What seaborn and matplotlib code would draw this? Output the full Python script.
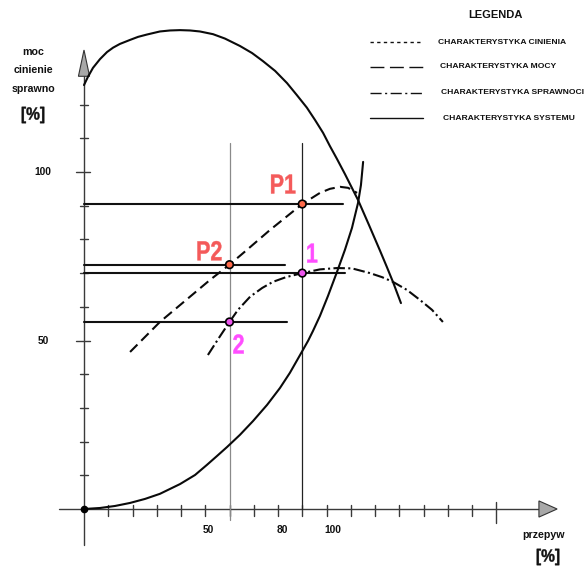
import matplotlib
matplotlib.use("Agg")
import matplotlib.pyplot as plt
from matplotlib.patches import Polygon, PathPatch
from matplotlib.lines import Line2D
from matplotlib.textpath import TextPath
from matplotlib.font_manager import FontProperties
from matplotlib.transforms import Affine2D, ScaledTranslation
import pandas as pd
import seaborn as sns

# Pump characteristics: flow Q [%] against head / power / efficiency [%]
pressure_q = [0, 1.6, 3.7, 6.6, 9.5, 12.0, 14.8, 19.0, 22.3, 26.0, 31.3, 35.5, 39.6, 43.7,
              47.8, 53.2, 58.1, 64.3, 69.3, 73.8, 78.8, 83.7, 87.8, 91.9, 95.3, 98.6,
              101.4, 104.3, 107.6, 113.0, 117.5, 122.1, 124.9, 127.4, 130.7]
pressure_h = [125.8, 128.2, 130.9, 133.5, 135.6, 136.9, 138.0, 139.2, 140.1, 140.8, 141.7,
              142.0, 142.1, 142.0, 141.7, 140.9, 139.6, 137.4, 135.3, 132.9, 130.0, 126.4,
              122.8, 119.1, 115.4, 111.6, 107.7, 103.9, 99.4, 91.7, 84.3, 76.6, 71.8, 67.4, 61.1]

power_q = [19.0, 31.3, 52.0, 60.0, 67.2, 76.7, 90.0, 97.3, 101.4, 105.6, 108.9, 112.6]
power_p = [46.6, 55.5, 68.0, 72.5, 76.9, 82.8, 90.5, 93.8, 95.0, 95.6, 95.3, 93.8]

eff_q = [51.1, 55.3, 60.0, 63.5, 68.5, 73.5, 77.9, 83.3, 90.0, 97.3, 104.3, 110.5, 117.9,
         122.9, 127.4, 133.2, 138.6, 143.5, 148.0]
eff_e = [45.7, 50.4, 55.5, 59.1, 63.0, 65.6, 67.4, 68.8, 70.0, 71.1, 71.5, 71.4, 70.0,
         68.8, 67.4, 65.0, 62.0, 59.1, 55.5]

system_q = [0, 6.6, 12.8, 19.0, 25.2, 31.3, 39.6, 45.8, 50.7, 54.8, 59.0, 64.3, 69.7, 75.5,
            80.8, 84.9, 89.1, 92.4, 94.4, 97.3, 100.6, 104.3, 107.6, 110.5, 113.0, 114.2, 115.1]
system_h = [0, 0.3, 0.9, 1.8, 3.0, 4.5, 7.4, 10.1, 13.1, 15.7, 18.4, 22.0, 26.1, 30.9,
            35.9, 40.4, 45.7, 49.9, 52.8, 57.3, 63.2, 70.3, 76.9, 83.4, 90.8, 96.1, 103.0]

# Operating points
point_names = ["P1", "P2", "1", "2"]
point_q = [90, 60, 90, 60]
point_v = [90.5, 72.5, 70.0, 55.5]
point_line_end = [106.8, 82.9, 107.6, 83.7]
point_colors = ["#f45a5a", "#f45a5a", "#ff4dff", "#ff4dff"]
point_fill = ["#ff6a4a", "#ff6a4a", "#ee55ee", "#ee55ee"]
point_offsets_px = [(-19, 20), (-20, 14), (10, 20), (9, -22)]

# Vertical guides at the two flow rates
guide_q = [60, 90]
guide_bottom = [-3.3, 0]
guide_colors = ["#8a8a8a", "#222222"]

# Axis ticks
y_ticks = list(range(10, 130, 10))
y_labels = {100: "100", 50: "50"}
x_ticks = list(range(10, 180, 10))
x_labels = [(51.3, "50"), (81.8, "80"), (102.8, "100")]

legend_entries = ["CHARAKTERYSTYKA CINIENIA", "CHARAKTERYSTYKA MOCY",
                  "CHARAKTERYSTYKA SPRAWNOCI", "CHARAKTERYSTYKA SYSTEMU"]

sns.set_theme(style="white")
plt.rcParams["font.family"] = ["Liberation Sans", "DejaVu Sans"]
BOLD = FontProperties(family="Liberation Sans", weight="bold")

W, H = 587, 567
fig = plt.figure(figsize=(W / 100, H / 100), dpi=100)
ax = fig.add_axes([0, 0, 1, 1])
ax.set_xlim(-84 / 2.425, (W - 84) / 2.425)
ax.set_ylim((509 - H) / 3.37, 509 / 3.37)
ax.axis("off")


def fpx(x, y):
    """Figure-fraction position from pixel position (origin top-left)."""
    return x / W, 1 - y / H


def narrow_text(s, anchor, base, em_x, em_y, color, off=(0, 0), zorder=8):
    """Draw bold text condensed horizontally, centred on an anchor point."""
    tp = TextPath((0, 0), s, size=1, prop=BOLD)
    bb = tp.get_extents()
    cx, cy = (bb.x0 + bb.x1) / 2, (bb.y0 + bb.y1) / 2
    tr = (Affine2D().translate(-cx, -cy).scale(em_x, em_y).translate(*off)
          + ScaledTranslation(anchor[0], anchor[1], base))
    patch = PathPatch(tp, transform=tr, facecolor=color, edgecolor=color,
                      lw=0.3, zorder=zorder)
    fig.add_artist(patch)


axis_col = "#3a3a3a"
# axes with arrow heads
ax.plot([-10.3, 187.6], [0, 0], color=axis_col, lw=1.0, zorder=2)
ax.plot([0, 0], [-10.7, 128.4], color=axis_col, lw=1.0, zorder=2)
ax.add_patch(Polygon([[-2.3, 128.4], [2.3, 128.4], [0, 136.2]], closed=True,
                     facecolor="#a8a8a8", edgecolor="#333333", lw=0.8, zorder=3))
ax.add_patch(Polygon([[187.6, 2.4], [187.6, -2.4], [195.1, 0]], closed=True,
                     facecolor="#a8a8a8", edgecolor="#333333", lw=0.8, zorder=3))

for t in y_ticks:
    if t in y_labels:
        ax.plot([-3.3, 2.5], [t, t], color=axis_col, lw=1.0)
        ax.text(-16.8, t, y_labels[t], ha="center", va="center",
                fontsize=7.4, fontweight="bold", color="#111111")
    else:
        ax.plot([-1.65, 1.65], [t, t], color=axis_col, lw=1.0)
for t in x_ticks:
    if t == 170:
        ax.plot([t, t], [2.1, -4.2], color=axis_col, lw=1.0)
    else:
        ax.plot([t, t], [1.2, -2.1], color=axis_col, lw=1.0)
for xv, lab in x_labels:
    ax.text(xv, -6.2, lab, ha="center", va="center", fontsize=7.4,
            fontweight="bold", color="#111111")

# vertical guides
for q, yb, c in zip(guide_q, guide_bottom, guide_colors):
    ax.plot([q, q], [yb, 108.6], color=c, lw=0.9, zorder=2)

# horizontal lines from the operating points to the axis
for v, end in zip(point_v, point_line_end):
    ax.plot([0, end], [v, v], color="#111111", lw=1.5, zorder=3)

# characteristic curves
curves = [
    (pressure_q, pressure_h, None),
    (power_q, power_p, (5, 2.6)),
    (eff_q, eff_e, (5.5, 1.6, 1.0, 1.6)),
    (system_q, system_h, None),
]
for xs, ys, dash in curves:
    df = pd.DataFrame({"q": xs, "v": ys})
    kw = {"dashes": dash} if dash else {}
    sns.lineplot(data=df, x="q", y="v", ax=ax, color="#0a0a0a", lw=1.5,
                 sort=False, estimator=None, zorder=4, **kw)

# origin dot
ax.plot([0], [0], "o", color="black", ms=4.5, zorder=6)

# operating point markers and labels
pts = pd.DataFrame({"q": point_q, "v": point_v, "name": point_names})
sns.scatterplot(data=pts, x="q", y="v", hue="name", palette=point_fill,
                s=30, edgecolor="black", linewidth=1.2, legend=False,
                ax=ax, zorder=7)
for name, q, v, c, off in zip(point_names, point_q, point_v, point_colors, point_offsets_px):
    narrow_text(name, (q, v), ax.transData, 21.5, 27.5, c,
                off=(off[0], off[1]))

# axis titles
for txt, y in [("moc", 52), ("cinienie", 70), ("sprawno", 89)]:
    fig.text(*fpx(33, y), txt, ha="center", va="center", fontsize=7.7,
             fontweight="bold", color="#111111")
narrow_text("[%]", fpx(33, 115), fig.transFigure, 15.5, 17.5, "#111111")
fig.text(*fpx(544, 535), "przepyw", ha="center", va="center", fontsize=7.7,
         fontweight="bold", color="#111111")
narrow_text("[%]", fpx(548, 557), fig.transFigure, 15.5, 17.5, "#111111")

# legend block
fig.text(*fpx(495, 15), "LEGENDA", ha="center", va="center", fontsize=8,
         fontweight="bold", color="#111111")
legend_dashes = [(2.4, 2.4), (10, 4), (8, 2.5, 1.5, 2.5), None]
legend_rows = [42, 67, 93, 118]
legend_text_x = [438, 440, 441, 443]
for lab, dash, ry, tx in zip(legend_entries, legend_dashes, legend_rows, legend_text_x):
    x0, y0 = fpx(370, ry)
    x1, _ = fpx(423, ry)
    ln = Line2D([x0, x1], [y0, y0], transform=fig.transFigure,
                color="#111111", lw=1.0)
    if dash:
        ln.set_dashes(dash)
    fig.add_artist(ln)
    fig.text(*fpx(tx, ry), lab, ha="left", va="center", fontsize=6.1,
             fontweight="bold", color="#111111")

fig.savefig("out.png", dpi=100)
